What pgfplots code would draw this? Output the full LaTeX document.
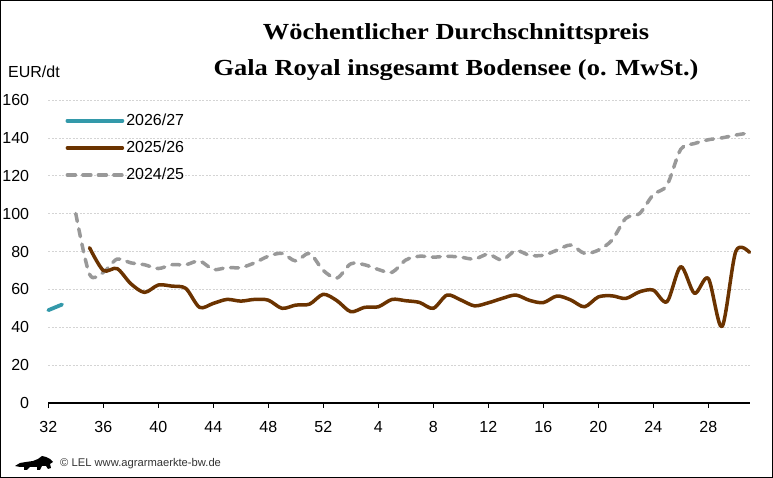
\documentclass[border=0pt]{standalone}
\usepackage{fontspec}
\setmainfont{Liberation Sans}
\newfontfamily\titlefont{Liberation Serif}[FakeStretch=1.15]
\usepackage{pgfplots}
\pgfplotsset{compat=1.18}
\definecolor{cteal}{HTML}{3399AA}
\definecolor{cbrown}{HTML}{6B3300}
\definecolor{cgray}{HTML}{999999}
\definecolor{cgrid}{HTML}{D4D4D4}
\pgfplotstableread{
x y
0 49
1 52
}\teal
\pgfplotstableread{
x y
3 82
4 70
5 71
6 63
7 58.4
8 62.3
9 61.7
10 60.5
11 50.5
12 52.6
13 54.7
14 53.8
15 54.7
16 54.3
17 50
18 51.7
19 52.2
20 57.4
21 54
22 48.2
23 50.5
24 50.8
25 54.7
26 54
27 53.1
28 50
29 57
30 54.4
31 51.3
32 52.9
33 55.2
34 57
35 54.2
36 53
37 56.5
38 54.4
39 50.8
40 56
41 56.6
42 55.2
43 58.7
44 59.6
45 53.5
46 72
47 57.9
48 65.8
49 40.3
50 80
51 79.5
}\brown
\pgfplotstableread{
x y
2 100
3 68
4 69
5 76
6 74
7 73
8 71
9 73
10 73
11 75
12 70.5
13 71.5
14 71.5
15 74
16 77.5
17 79
18 75
19 79
20 70
21 66
22 73.5
23 73
24 70.5
25 69
26 75.5
27 77.5
28 77
29 77.5
30 77
31 76
32 78.6
33 75.5
34 80.5
35 78
36 78
37 80.7
38 83.4
39 79
40 80.7
41 86
42 97.5
43 100
44 110
45 115
46 134
47 137
48 139
49 140
50 141.5
51 142.6
}\gray
\begin{document}
\begin{tikzpicture}[x=1pt,y=1pt]
\fill[white] (0,0) rectangle (773,478);
\draw[black, line width=1pt] (0.5,0.5) rectangle (772.5,477.5);
\node[anchor=base, inner sep=0pt] at (456,438) {\titlefont\bfseries\fontsize{23}{23}\selectfont Wöchentlicher Durchschnittspreis};
\node[anchor=base, inner sep=0pt] at (456,402.3) {\titlefont\bfseries\fontsize{23}{23}\selectfont Gala Royal insgesamt Bodensee (o. MwSt.)};
\node[anchor=base west, inner sep=0pt] at (8,400.5) {\fontsize{16}{16}\selectfont EUR/dt};
\node[anchor=west, inner sep=0pt] at (60,14) {\fontsize{11.2}{11.2}\selectfont\color[HTML]{333333}© LEL www.agrarmaerkte-bw.de};
% small logo silhouette
\fill[black] (15,12) -- (20,15) -- (26,16) -- (33,17) -- (38,19) -- (42,22) -- (46,21) -- (50,19) -- (53,16) -- (50,14) -- (51,10) -- (48,9) -- (46,12) -- (42,12) -- (40,8) -- (37,8) -- (37,11) -- (30,11) -- (27,8) -- (24,8) -- (24,11) -- (20,11) -- cycle;
\begin{axis}[
  at={(48.3pt,75pt)}, anchor=south west,
  scale only axis, width=701.2pt, height=303pt,
  xmin=0, xmax=51, ymin=0, ymax=160,
  clip=false,
  separate axis lines,
  axis x line*=bottom, axis y line*=left,
  x axis line style={black, line width=2pt, -},
  y axis line style={draw=none},
  xtick={0,4,...,48},
  xticklabels={32,36,40,44,48,52,4,8,12,16,20,24,28},
  ytick={0,20,...,160},
  xtick style={black, line width=1.5pt},
  tick align=outside,
  major tick length=5pt,
  ytick style={draw=none},
  ymajorgrids,
  grid style={cgrid, line width=0.6pt, dash pattern=on 2pt off 1.5pt},
  tick label style={font=\fontsize{16}{16}\selectfont, /pgf/number format/assume math mode=true},
  yticklabel style={anchor=east, inner sep=0pt, xshift=-14pt},
  xticklabel style={anchor=north, inner sep=0pt, yshift=-13pt},
  legend image code/.code={\draw[#1] (0pt,0pt) -- (55pt,0pt);},
  legend style={at={(axis description cs:0,1)}, anchor=north west, xshift=17pt, yshift=-12pt,
    draw=none, fill=none, inner sep=0pt, row sep=10pt,
    font=\fontsize{16}{16}\selectfont,
    /tikz/every even column/.append style={column sep=5.5pt}},
  legend cell align=left,
]
\addlegendimage{cteal, line width=3.8pt, line cap=round}
\addlegendimage{cbrown, line width=3.5pt, line cap=round}
\addlegendimage{cgray, line width=3.5pt, line cap=round, dash pattern=on 8pt off 7.5pt}
\legend{2026/27,2025/26,2024/25}
\addplot[forget plot, cgray, line width=3.5pt, line cap=round, line join=round, dash pattern=on 8pt off 7.5pt, smooth] table[x=x,y=y] {\gray};
\addplot[forget plot, cbrown, line width=3.5pt, line cap=round, line join=round, smooth] table[x=x,y=y] {\brown};
\addplot[forget plot, cteal, line width=3.8pt, line cap=round, line join=round, smooth] table[x=x,y=y] {\teal};
\end{axis}
\end{tikzpicture}
\end{document}
